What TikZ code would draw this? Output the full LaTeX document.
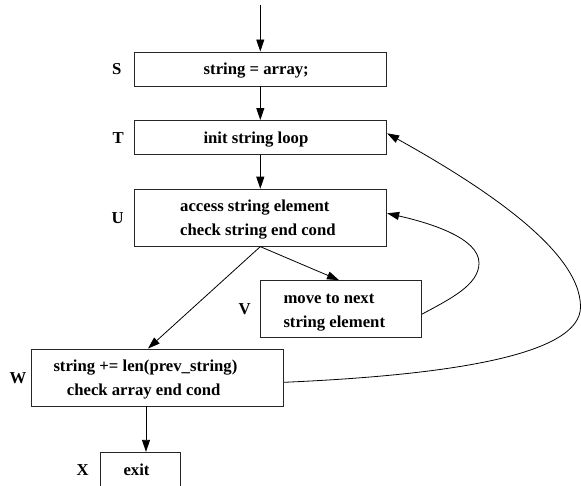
\documentclass[tikz,border=0pt]{standalone}
\usepackage{fontspec}
\setmainfont{Liberation Serif}
\usetikzlibrary{arrows.meta,calc}
\tikzset{
  box/.style={draw=black!85, line width=0.9pt, rectangle, inner sep=0pt},
  txt/.style={anchor=base west, inner sep=0pt, font=\bfseries\fontsize{16.7}{24}\selectfont},
  lbl/.style={anchor=base west, inner sep=0pt, font=\bfseries\fontsize{16.7}{24}\selectfont},
  edge/.style={draw=black, line width=0.8pt, -{Triangle[length=12pt,width=8pt]}}
}
\begin{document}
\begin{tikzpicture}[x=1pt,y=-1pt]
\useasboundingbox (0,0) rectangle (581,486);
% boxes
\node[box, minimum width=252pt, minimum height=34pt] (S) at (260.3,69) {};
\node[box, minimum width=252pt, minimum height=34pt] (T) at (260.3,137.5) {};
\node[box, minimum width=252pt, minimum height=57pt] (U) at (260.3,217.7) {};
\node[box, minimum width=160.6pt, minimum height=57pt] (V) at (341,309.1) {};
\node[box, minimum width=251.6pt, minimum height=57pt] (W) at (157.5,377.5) {};
\node[box, minimum width=79.3pt, minimum height=36pt] (X) at (140.3,470.3) {};
% texts
\node[txt] (Stxt) at (203.5,75) {string = array;};
\node[txt] (Ttxt) at (203.3,143.5) {init string loop};
\node[txt] (Utxt1) at (180,211.7) {access string element};
\node[txt] (Utxt2) at (180,235.7) {check string end cond};
\node[txt] (Vtxt1) at (283.3,303.3) {move to next};
\node[txt] (Vtxt2) at (283.3,327.3) {string element};
\node[txt] (Wtxt1) at (53.3,371.7) {string += len(prev\_string)};
\node[txt] (Wtxt2) at (66.7,395.7) {check array end cond};
\node[txt] (Xtxt) at (123.3,475) {exit};
% side labels
\node[lbl] (Slbl) at (112,75) {S};
\node[lbl] (Tlbl) at (112.5,143.5) {T};
\node[lbl] (Ulbl) at (111.5,223.3) {U};
\node[lbl] (Vlbl) at (238.5,315) {V};
\node[lbl] (Wlbl) at (9.5,383.3) {W};
\node[lbl] (Xlbl) at (76.5,475) {X};
% connectors
\coordinate (start) at (260.3,5);
\coordinate (wx) at ($(W.south)+(-11.5,0)$);
\draw[edge] (start) -- (S.north);
\draw[edge] (S.south) -- (T.north);
\draw[edge] (T.south) -- (U.north);
\draw[edge] (U.south) -- ($(V.north)+(-2,0)$);
\draw[edge] (U.south) -- ($(W.north)+(-9.5,0)$);
\draw[edge] (wx) -- (wx |- X.north);
\draw[edge] ($(V.east)+(0,5.2)$) .. controls (450,299) and (479,285) .. (479,263)
   .. controls (479,238) and (430,223) .. ($(U.east)+(0.4,-4.4)$);
\draw[edge] ($(W.east)+(0.4,4.8)$) .. controls (450,375) and (581,355) .. (580.5,306.7)
   .. controls (580.5,250) and (480,185) .. ($(T.east)+(0.4,-4.2)$);
\end{tikzpicture}
\end{document}
